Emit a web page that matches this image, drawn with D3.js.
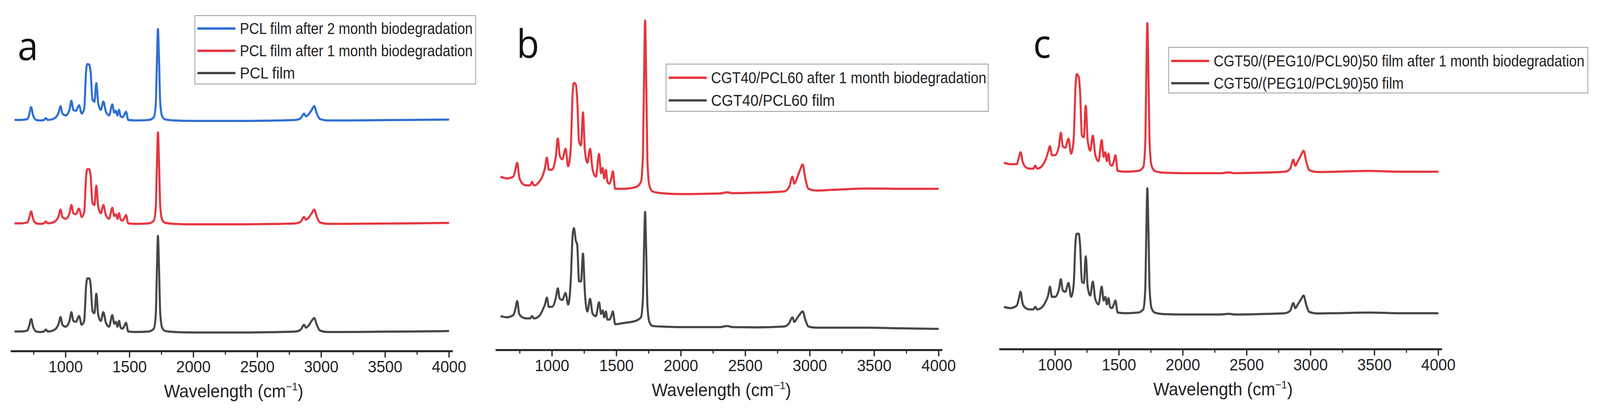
<!DOCTYPE html>
<html><head><meta charset="utf-8">
<script src="https://cdn.jsdelivr.net/npm/d3@7"></script>
<style>html,body{margin:0;padding:0;overflow:hidden;background:#fff}svg{display:block;width:100vw;height:100vh}</style>
</head><body>
<svg id="c" viewBox="0 0 4336 1052" preserveAspectRatio="none"></svg>
<script>
// Wavenumber grid (cm^-1)
const wn = [600,650,700,715,730,745,770,800,830,845,860,900,930,945,960,975,1000,1030,1045,1060,1080,1105,1125,1145,1160,1170,1185,1195,1210,1225,1240,1255,1275,1295,1315,1340,1365,1380,1393,1405,1418,1430,1445,1460,1472,1490,1550,1650,1690,1705,1715,1722,1730,1740,1755,1780,1850,2000,2300,2360,2400,2600,2800,2840,2865,2880,2900,2925,2945,2965,2990,3050,3200,3450,3700,4000];
const xTicks = [1000,1500,2000,2500,3000,3500,4000];

// Relative intensities (main C=O peak = 100)
const pclFilm = [1,1,2,7,14,6,1,0.5,1,3,1,2,5,9,16,8,6,12,21,12,11,17,8,12,48,56,56,50,22,20,40,18,12,21,10,6,18,9,11,6,12,5,4,7,10,1,0.5,1,4,18,70,100,70,20,5,1.5,0.5,0,0,0,0,0.3,1,3,8,5,7,12,15,8,2,0.5,0.5,0.8,1,1.5];
const pcl1m = [1,1,2,7,14,6,1,0.5,1,3,1,2,5,9,16,8,6,12,21,12,11,17,8,13,52,60,60,53,23,21,42,19,12,21,10,6,18,9,11,6,12,5,4,7,10,1,0.5,1,4,18,70,100,70,20,5,1.5,0.5,0,0,0,0,0.3,1,3,8,5,7,12,16,8,2,0.5,0.5,0.8,1,1.5];
const pcl2m = [1,1,2,7,15,6,1,0.5,1,3,1,2,5,9,16,8,6,12,22,12,11,17,8,13,54,62,61,54,23,21,41,19,12,21,10,6,18,9,11,6,12,5,4,7,10,1,0.5,1,4,18,70,100,70,20,5,1.5,0.5,0,0,0,0,0.3,1,3,8,5,7,12,16,8,2,0.5,0.5,0.8,1,1.5];
const cgt40Film = [10,9,11,16,23,12,9,8,8,10,8,10,16,20,26,18,18,26,34,25,24,30,20,40,80,86,75,72,40,40,64,30,14,25,12,10,22,12,15,9,14,7,7,10,14,3,4,6,9,25,75,100,70,20,5,1.5,1,0.5,0.5,1.5,0.5,0.3,1,4,9,5,8,12,14,7,1,0,0,0,-0.5,-1];
const cgt40_1m = [10,9,10,14,18,10,6,5,5,7,5,7,11,15,21,14,14,22,32,22,20,26,16,26,58,64,63,55,30,28,47,25,18,26,14,10,23,12,15,9,14,7,6,9,13,3,3,4,7,22,72,100,70,20,5,1.5,0.5,0,0.3,1,0.5,0.8,1.5,4,10,6,9,14,17,9,3,2,2.5,3.2,3,3];
const cgt50Film = [6,5,7,12,18,9,5,4,4,6,4,6,11,15,22,14,14,20,28,19,18,25,14,23,58,64,64,56,26,25,46,22,15,26,12,8,22,11,14,8,13,6,5,8,11,1.5,1,1.5,4,18,70,100,70,20,5,1.5,0.3,0,0,0.5,0,0.3,1,3,9,5,8,12,15,8,2,0.8,1,1.5,1,1];
const cgt50_1m = [7,6,6,10,14,8,4,3,3,5,3,5,10,14,18,12,12,18,27,18,17,23,13,22,58,66,64,55,25,24,45,22,15,25,12,8,22,11,14,8,13,6,5,8,12,1.5,1,1.5,4,18,70,100,70,20,5,1.5,0.3,0,0,0.5,0,0.3,1,3,9,5,8,12,15,8,2,0.8,1,1.5,1,1];

const panels = [
  {label:"a", series:[
    {name:"PCL film after 2 month biodegradation", color:"#2f6fd6", y:pcl2m, offset:219, gain:0.95},
    {name:"PCL film after 1 month biodegradation", color:"#e5363f", y:pcl1m, offset:112, gain:0.95},
    {name:"PCL film", color:"#474747", y:pclFilm, offset:0, gain:1}]},
  {label:"b", series:[
    {name:"CGT40/PCL60 after 1 month biodegradation", color:"#e5363f", y:cgt40_1m, offset:115.5, gain:1.5},
    {name:"CGT40/PCL60 film", color:"#474747", y:cgt40Film, offset:0, gain:1}]},
  {label:"c", series:[
    {name:"CGT50/(PEG10/PCL90)50 film after 1 month biodegradation", color:"#e5363f", y:cgt50_1m, offset:112, gain:1.19},
    {name:"CGT50/(PEG10/PCL90)50 film", color:"#474747", y:cgt50Film, offset:0, gain:1}]}
];

const layout = [
  {x0:29, x1:1227, xd:[570,4029], axisY:899, yd:[-19.4,332], lab:[48,154], leg:{x:528,y:40,w:761,h:175,row:57,font:40,tw:[631,631,0]}},
  {x0:1343, x1:2554, xd:[562,4029], axisY:896, yd:[-19.3,273], lab:[1400,148], leg:{x:1805,y:164,w:873,h:121,row:58,font:40,tw:[746,0]}},
  {x0:2708, x1:3908, xd:[563,4029], axisY:894, yd:[-27.6,240], lab:[2800,148], leg:{x:3167,y:121,w:1136,h:117,row:57,font:40,tw:[1005,515]}}
];

const svg = d3.select("#c");
panels.forEach((p,i)=>{
  const L = layout[i];
  const x = d3.scaleLinear().domain(L.xd).range([L.x0,L.x1]);
  const y = d3.scaleLinear().domain(L.yd).range([L.axisY,30]);
  const g = svg.append("g");
  const line = d3.line().x((d,j)=>x(wn[j])).y(d=>d).curve(d3.curveMonotoneX);
  p.series.forEach(s=>{
    g.append("path").attr("d", line(s.y.map(v=>y(v*s.gain+s.offset))))
      .attr("fill","none").attr("stroke",s.color).attr("stroke-width",5.5).attr("stroke-linejoin","round");
  });
  const ax = g.append("g").attr("transform",`translate(0,${L.axisY})`);
  ax.append("line").attr("x1",L.x0).attr("x2",L.x1).attr("stroke","#222").attr("stroke-width",5);
  const minor = d3.range(750,4001,500);
  ax.selectAll(".mi").data(minor).join("line").attr("x1",d=>x(d)).attr("x2",d=>x(d)).attr("y1",0).attr("y2",9).attr("stroke","#222").attr("stroke-width",3);
  ax.selectAll(".ma").data(xTicks).join("line").attr("x1",d=>x(d)).attr("x2",d=>x(d)).attr("y1",0).attr("y2",16).attr("stroke","#222").attr("stroke-width",3.5);
  ax.selectAll(".tl").data(xTicks).join("text").attr("x",d=>x(d)).attr("y",54).attr("text-anchor","middle")
    .attr("font-family","Liberation Sans, Arial").attr("font-size",42).attr("fill","#222").text(d=>d);
  const t = g.append("text").attr("x",(x(600)+x(4000))/2+5).attr("y",L.axisY+118).attr("text-anchor","middle")
    .attr("font-family","Liberation Sans, Arial").attr("font-size",46).attr("fill","#222");
  t.append("tspan").text("Wavelength (cm");
  t.append("tspan").attr("dy",-18).attr("font-size",28).text("\u22121");
  t.append("tspan").attr("dy",18).text(")");
  g.append("text").attr("x",L.lab[0]).attr("y",L.lab[1]).attr("font-family","Open Sans, sans-serif")
    .attr("font-size",100).attr("fill","#111").text(p.label);
  const lg = L.leg;
  g.append("rect").attr("x",lg.x).attr("y",lg.y).attr("width",lg.w).attr("height",lg.h)
    .attr("fill","#fff").attr("stroke","#999").attr("stroke-width",2);
  p.series.forEach((s,k)=>{
    const cy = lg.y + 33 + k*lg.row + (p.series.length===2?2:0);
    g.append("line").attr("x1",lg.x+7).attr("x2",lg.x+110).attr("y1",cy).attr("y2",cy).attr("stroke",s.color).attr("stroke-width",6);
    const tx = g.append("text").attr("x",lg.x+122).attr("y",cy+14).attr("font-family","Liberation Sans, Arial")
      .attr("font-size",lg.font).attr("fill","#222").text(s.name);
    if (lg.tw[k]) tx.attr("textLength",lg.tw[k]).attr("lengthAdjust","spacingAndGlyphs");
  });
});
</script>
</body></html>
